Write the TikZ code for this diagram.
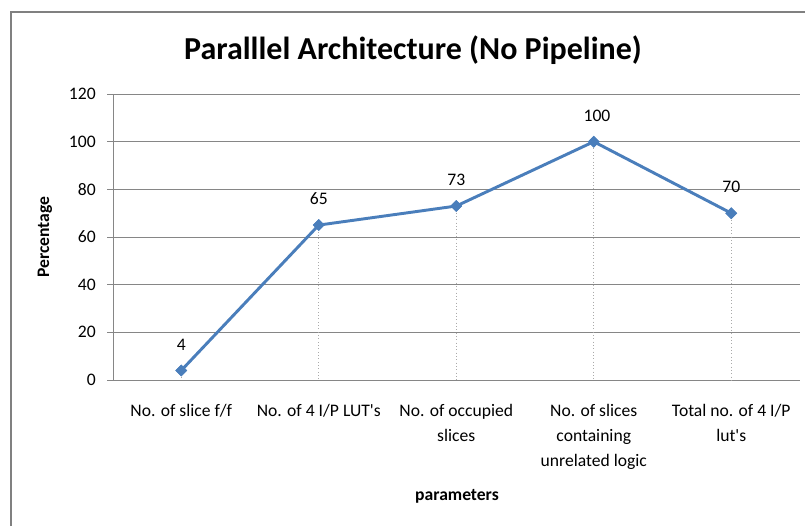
\documentclass[tikz,border=0pt]{standalone}
\usepackage{fontspec}
\setmainfont{Carlito}
\usetikzlibrary{shapes.geometric}
\definecolor{seriesblue}{RGB}{74,126,187}
\definecolor{gridgray}{RGB}{134,134,134}
\definecolor{framegray}{RGB}{128,128,128}

\begin{document}
\begin{tikzpicture}[x=0.75pt,y=0.75pt,yscale=-1,xscale=1,
  gridline/.style={draw=gridgray,line width=0.75pt},
  dropline/.style={draw=gridgray!70,line width=0.5pt,dotted},
  datapt/.style={diamond,fill=seriesblue,inner sep=0pt,minimum size=9pt},
  series/.style={draw=seriesblue,line width=2.2pt,line join=round},
  ticklab/.style={anchor=east,inner sep=0.75pt,font=\fontsize{13.2}{15}\selectfont},
  catlab/.style={anchor=north,inner sep=0pt,align=center,font=\fontsize{13.2}{18.75}\selectfont},
  vallab/.style={inner sep=0.75pt,font=\fontsize{13.2}{15}\selectfont}]
\useasboundingbox (0,0) rectangle (805,526);

%Chart frame
\draw [framegray,line width=1.1pt] (11,526) -- (11,12) -- (805,12) ;

%Gridlines and y ticks
\foreach \v/\yy in {0/380,20/332.33,40/284.67,60/237,80/189.33,100/141.67,120/94}{
  \draw [gridline] (107,\yy) -- (800,\yy) ;
  \node [ticklab] (t\v) at (97,\yy) {\v};
}
%Straight Lines y axis
\draw [gridline] (113,94) -- (113,380) ;

%Data points
\node [datapt] (p1) at (181.25,370.47) {};
\node [datapt] (p2) at (318.75,225.08) {};
\node [datapt] (p3) at (456.25,206.02) {};
\node [datapt] (p4) at (593.75,141.67) {};
\node [datapt] (p5) at (731.25,213.17) {};

%Drop lines
\foreach \i/\xx in {1/181.25,2/318.75,3/456.25,4/593.75,5/731.25}{
  \coordinate (b\i) at (\xx,380) ;
  \draw [dropline] (p\i.center) -- (b\i) ;
}

%Series line
\draw [series] (p1.center) -- (p2.center) -- (p3.center) -- (p4.center) -- (p5.center) ;
\foreach \i in {1,...,5}{ \node [datapt] at (p\i) {}; }

% Text Node
\node [vallab] (v1) at (181.25,344.5) {4};
\node [vallab] (v2) at (318.75,199) {65};
\node [vallab] (v3) at (456.25,180) {73};
\node [vallab] (v4) at (597,115.5) {100};
\node [vallab] (v5) at (731.25,187) {70};

% Text Node
\node [catlab] (c1) at (181.25,403.5) {No. of slice f/f};
\node [catlab] (c2) at (318.75,403.5) {No. of 4 I/P LUT\textquotesingle s};
\node [catlab] (c3) at (456.25,403.5) {No. of occupied\\slices};
\node [catlab] (c4) at (593.75,403.5) {No. of slices\\containing\\unrelated logic};
\node [catlab] (c5) at (731.25,403.5) {Total no. of 4 I/P\\lut\textquotesingle s};

% Text Node
\node [inner sep=0.75pt,font=\fontsize{24}{28}\selectfont\bfseries] (title) at (413,50) {Paralllel Architecture (No Pipeline)};
\node [inner sep=0.75pt,rotate=90,font=\fontsize{13.2}{15}\selectfont\bfseries] (ylab) at (45,237) {Percentage};
\node [inner sep=0.75pt,font=\fontsize{13.2}{15}\selectfont\bfseries] (xlab) at (457,496) {parameters};

\end{tikzpicture}
\end{document}
